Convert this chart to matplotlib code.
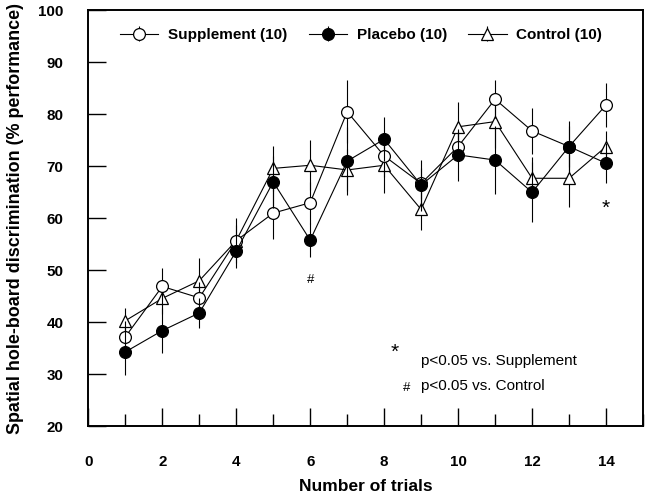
import matplotlib
matplotlib.use("Agg")
import matplotlib.pyplot as plt
from matplotlib.ticker import MultipleLocator

plt.rcParams['font.family'] = ['Liberation Sans', 'DejaVu Sans']

trials = [1, 2, 3, 4, 5, 6, 7, 8, 9, 10, 11, 12, 13, 14]
supp = [37.2, 46.9, 44.7, 55.7, 61.0, 63.0, 80.5, 72.0, 66.7, 73.8, 82.9, 76.8, 73.8, 81.8]
supp_err = [3.0, 3.6, 3.0, 3.0, 5.0, 4.0, 6.1, 4.0, 3.0, 3.0, 3.7, 4.5, 4.0, 4.2]
plac = [34.3, 38.4, 41.8, 53.7, 67.0, 55.8, 71.0, 75.2, 66.4, 72.2, 71.2, 65.0, 73.8, 70.6]
plac_err = [4.5, 4.3, 2.8, 3.3, 5.0, 3.3, 6.5, 4.2, 4.9, 5.0, 6.6, 5.8, 4.9, 3.9]
ctrl = [40.3, 44.6, 48.0, 55.7, 69.6, 70.2, 69.3, 70.2, 61.7, 77.6, 78.6, 67.7, 67.7, 73.8]
ctrl_err = [2.4, 3.0, 4.3, 4.3, 4.3, 4.8, 4.0, 5.3, 4.0, 4.8, 5.0, 4.0, 5.5, 3.0]

labels = ['Supplement (10)', 'Placebo (10)', 'Control (10)']

fig = plt.figure(figsize=(6.46, 4.96), dpi=100)
ax = fig.add_axes([0.1367, 0.1405, 0.8587, 0.8387])

common = dict(color='black', lw=0.8, elinewidth=0.8, capsize=0, markersize=8.5,
              markeredgewidth=0.9, markeredgecolor='black')
h_c = ax.errorbar(trials, ctrl, yerr=ctrl_err, marker='^', markerfacecolor='white',
                  label=labels[2], zorder=2, **common)
h_s = ax.errorbar(trials, supp, yerr=supp_err, marker='o', markerfacecolor='white',
                  label=labels[0], zorder=3, **common)
h_p = ax.errorbar(trials, plac, yerr=plac_err, marker='o', markerfacecolor='black',
                  label=labels[1], zorder=4, **common)

ax.set_xlim(0, 15)
ax.set_ylim(20, 100)
ax.xaxis.set_major_locator(MultipleLocator(2))
ax.xaxis.set_minor_locator(MultipleLocator(1))
ax.yaxis.set_major_locator(MultipleLocator(10))
ax.tick_params(axis='both', which='major', direction='in', length=13, width=1.0,
               labelsize=10.9, top=False, right=False)
ax.tick_params(axis='x', which='major', pad=21)
ax.tick_params(axis='y', which='major', pad=18)
ax.tick_params(axis='x', which='minor', direction='in', length=8.5, width=1.0)
for lab in ax.get_xticklabels() + ax.get_yticklabels():
    lab.set_fontweight('bold')
for sp in ax.spines.values():
    sp.set_linewidth(1.4)

ax.set_xlabel('Number of trials', fontsize=12.5, fontweight='bold', labelpad=7)
ax.set_ylabel('Spatial hole-board discrimination (% performance)', fontsize=12.9,
              fontweight='bold', labelpad=10)

leg = ax.legend(handles=[h_s, h_p, h_c], labels=labels, loc='upper center',
                bbox_to_anchor=(0.4917, 1.0), ncol=3, frameon=False,
                prop={'weight': 'bold', 'size': 11}, handlelength=2.5,
                columnspacing=1.4, handletextpad=0.65, borderaxespad=0.75)

ax.text(14, 61.9, '*', ha='center', va='center', fontsize=15)
ax.text(6, 48.1, '#', ha='center', va='center', fontsize=9.5)
ax.text(8.29, 34.3, '*', ha='center', va='center', fontsize=15)
ax.text(9.0, 32.6, 'p<0.05 vs. Supplement', ha='left', va='center', fontsize=11)
ax.text(8.62, 27.3, '#', ha='center', va='center', fontsize=9.5)
ax.text(9.0, 27.75, 'p<0.05 vs. Control', ha='left', va='center', fontsize=11)

fig.savefig('out.png', dpi=100)
